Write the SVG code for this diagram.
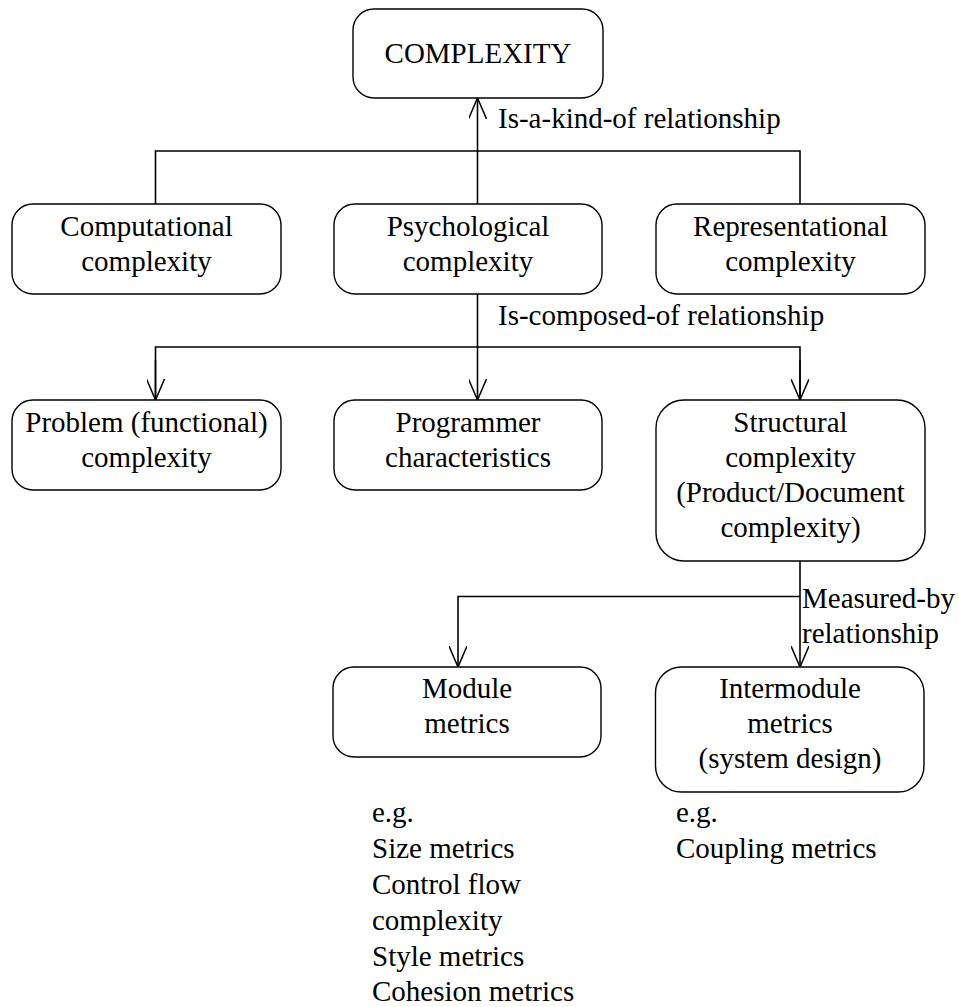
<svg xmlns="http://www.w3.org/2000/svg" width="959" height="1007" viewBox="0 0 959 1007">
<style>
  .box { fill: #fff; stroke: #000; stroke-width: 1.4; }
  .t { font-family: "Liberation Serif", "Times New Roman", serif; font-size: 29px; fill: #000; }
  .c { text-anchor: middle; }
  .ln { fill: none; stroke: #000; stroke-width: 1.6; }
</style>
<defs>
  <marker id="open" viewBox="0 0 21 18" refX="21" refY="9" markerWidth="21" markerHeight="18" markerUnits="userSpaceOnUse" orient="auto">
    <path d="M0,0 L21,9 L0,18" fill="none" stroke="#000" stroke-width="1.5"/>
  </marker>
</defs>
<rect width="959" height="1007" fill="#fff"/>

<g id="connectors">
  <path class="ln" d="M155.5,204 V151 H800 V204"/>
  <path class="ln" d="M477.5,204 V98" marker-end="url(#open)"/>
  <text class="t" x="498" y="128">Is-a-kind-of relationship</text>

  <path class="ln" d="M477.5,294 V400" marker-end="url(#open)"/>
  <path class="ln" d="M155.5,400 V347 H800 V400" />
  <path class="ln" d="M155.5,360 V400" marker-end="url(#open)"/>
  <path class="ln" d="M800,360 V400" marker-end="url(#open)"/>
  <text class="t" x="498" y="325">Is-composed-of relationship</text>

  <path class="ln" d="M800,561 V667" marker-end="url(#open)"/>
  <path class="ln" d="M800,596.5 H458 V667" marker-end="url(#open)"/>
  <text class="t" x="802" y="608">Measured-by</text>
  <text class="t" x="802" y="643">relationship</text>
</g>

<g id="complexity">
  <rect class="box" x="353" y="9" width="250" height="89" rx="21"/>
  <text class="t c" x="478" y="63">COMPLEXITY</text>
</g>

<g id="computational">
  <rect class="box" x="12" y="204" width="269" height="90" rx="21"/>
  <text class="t c" x="146.5" y="236">Computational</text>
  <text class="t c" x="146.5" y="271">complexity</text>
</g>
<g id="psychological">
  <rect class="box" x="334" y="204" width="268" height="90" rx="21"/>
  <text class="t c" x="468" y="236">Psychological</text>
  <text class="t c" x="468" y="271">complexity</text>
</g>
<g id="representational">
  <rect class="box" x="656" y="204" width="269" height="90" rx="21"/>
  <text class="t c" x="790.5" y="236">Representational</text>
  <text class="t c" x="790.5" y="271">complexity</text>
</g>

<g id="problem">
  <rect class="box" x="12" y="400" width="269" height="90" rx="21"/>
  <text class="t c" x="146.5" y="432">Problem (functional)</text>
  <text class="t c" x="146.5" y="467">complexity</text>
</g>
<g id="programmer">
  <rect class="box" x="334" y="400" width="268" height="90" rx="21"/>
  <text class="t c" x="468" y="432">Programmer</text>
  <text class="t c" x="468" y="467">characteristics</text>
</g>
<g id="structural">
  <rect class="box" x="656" y="400" width="269" height="161" rx="28"/>
  <text class="t c" x="790.5" y="432">Structural</text>
  <text class="t c" x="790.5" y="467">complexity</text>
  <text class="t c" x="790.5" y="502">(Product/Document</text>
  <text class="t c" x="790.5" y="537">complexity)</text>
</g>

<g id="module">
  <rect class="box" x="333" y="667" width="268" height="90" rx="21"/>
  <text class="t c" x="467" y="698">Module</text>
  <text class="t c" x="467" y="733">metrics</text>
</g>
<g id="intermodule">
  <rect class="box" x="655.5" y="667" width="268.5" height="125" rx="26"/>
  <text class="t c" x="790" y="698">Intermodule</text>
  <text class="t c" x="790" y="733">metrics</text>
  <text class="t c" x="790" y="768">(system design)</text>
</g>

<g id="module-examples">
  <text class="t" x="372" y="822">e.g.</text>
  <text class="t" x="372" y="858">Size metrics</text>
  <text class="t" x="372" y="894">Control flow</text>
  <text class="t" x="372" y="930">complexity</text>
  <text class="t" x="372" y="966">Style metrics</text>
  <text class="t" x="372" y="1001">Cohesion metrics</text>
</g>
<g id="intermodule-examples">
  <text class="t" x="676" y="822">e.g.</text>
  <text class="t" x="676" y="858">Coupling metrics</text>
</g>
</svg>
